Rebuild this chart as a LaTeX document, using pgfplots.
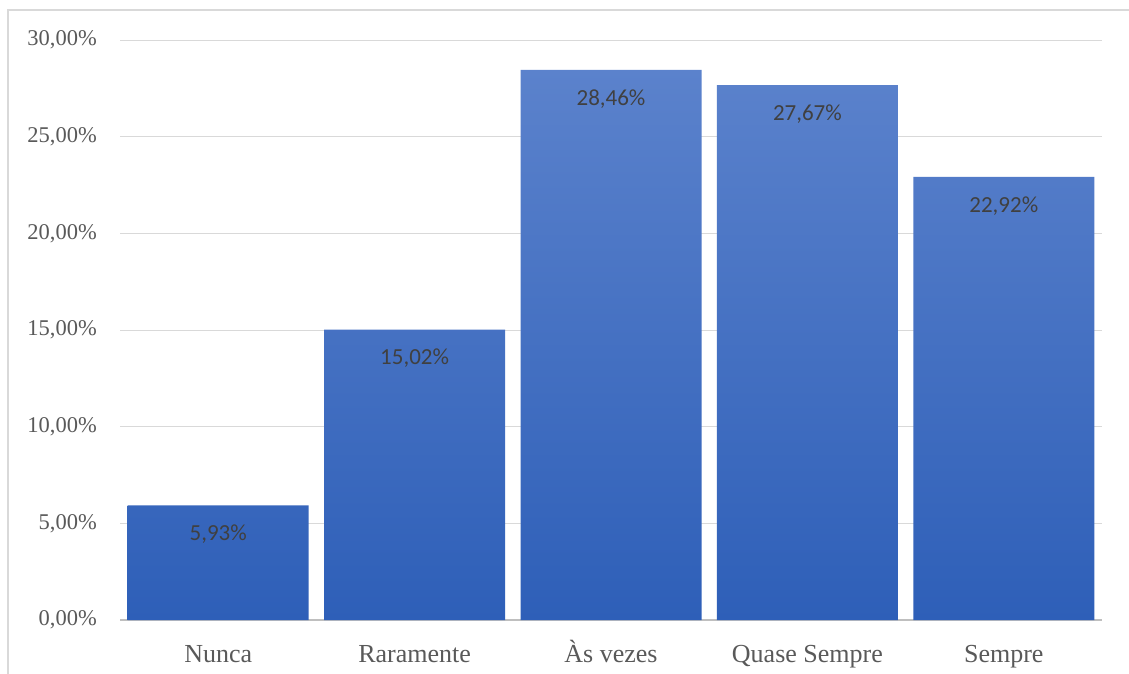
\documentclass[border=0pt]{standalone}
\usepackage{pgfplots}
\pgfplotsset{compat=1.18}
\usepackage{fontspec}
\setmainfont{Liberation Serif}
\newfontfamily\calibri{Carlito}
\definecolor{gridc}{HTML}{D9D9D9}
\definecolor{axisc}{HTML}{BFBFBF}
\definecolor{txtc}{HTML}{595959}
\definecolor{lblc}{HTML}{404040}
\definecolor{bartop}{HTML}{5B82CC}
\definecolor{barbot}{HTML}{2E5FB8}
\begin{document}
\begin{tikzpicture}[x=1pt,y=1pt]
\useasboundingbox (0,0) rectangle (1129,673);
\draw[gridc, line width=1.2pt] (8,-20) -- (8,663) -- (1160,663);
\begin{axis}[
  at={(120pt,53pt)}, anchor=south west,
  scale only axis, width=982pt, height=580pt,
  xmin=-0.5, xmax=4.5, ymin=0, ymax=30,
  ybar, bar width=181pt,
  xtick=data,
  xticklabels={Nunca, Raramente, Às vezes, Quase Sempre, Sempre},
  ytick={0,5,...,30},
  yticklabel={\pgfmathprintnumber[fixed,fixed zerofill,precision=2,use comma]{\tick}\%},
  /pgf/number format/assume math mode=true,
  ymajorgrids, grid style={gridc, line width=1pt},
  axis x line*=bottom, axis y line*=left,
  y axis line style={draw=none},
  x axis line style={axisc, line width=1.2pt},
  major tick length=0pt,
  tick label style={txtc},
  yticklabel style={font=\fontsize{22.5}{26}\selectfont, anchor=east, inner sep=0pt, xshift=-23pt},
  xticklabel style={font=\fontsize{26}{30}\selectfont, anchor=base, inner sep=0pt, yshift=-42pt},
  nodes near coords={\pgfmathprintnumber[fixed,fixed zerofill,precision=2,use comma]{\pgfplotspointmeta}\%},
  every node near coord/.append style={anchor=center, yshift=-29pt, text=lblc, font=\calibri\fontsize{23}{26}\selectfont},
  clip=false,
]
\addplot[draw=none, top color=bartop, bottom color=barbot] coordinates {(0,5.93) (1,15.02) (2,28.46) (3,27.67) (4,22.92)};
\end{axis}
\end{tikzpicture}
\end{document}
